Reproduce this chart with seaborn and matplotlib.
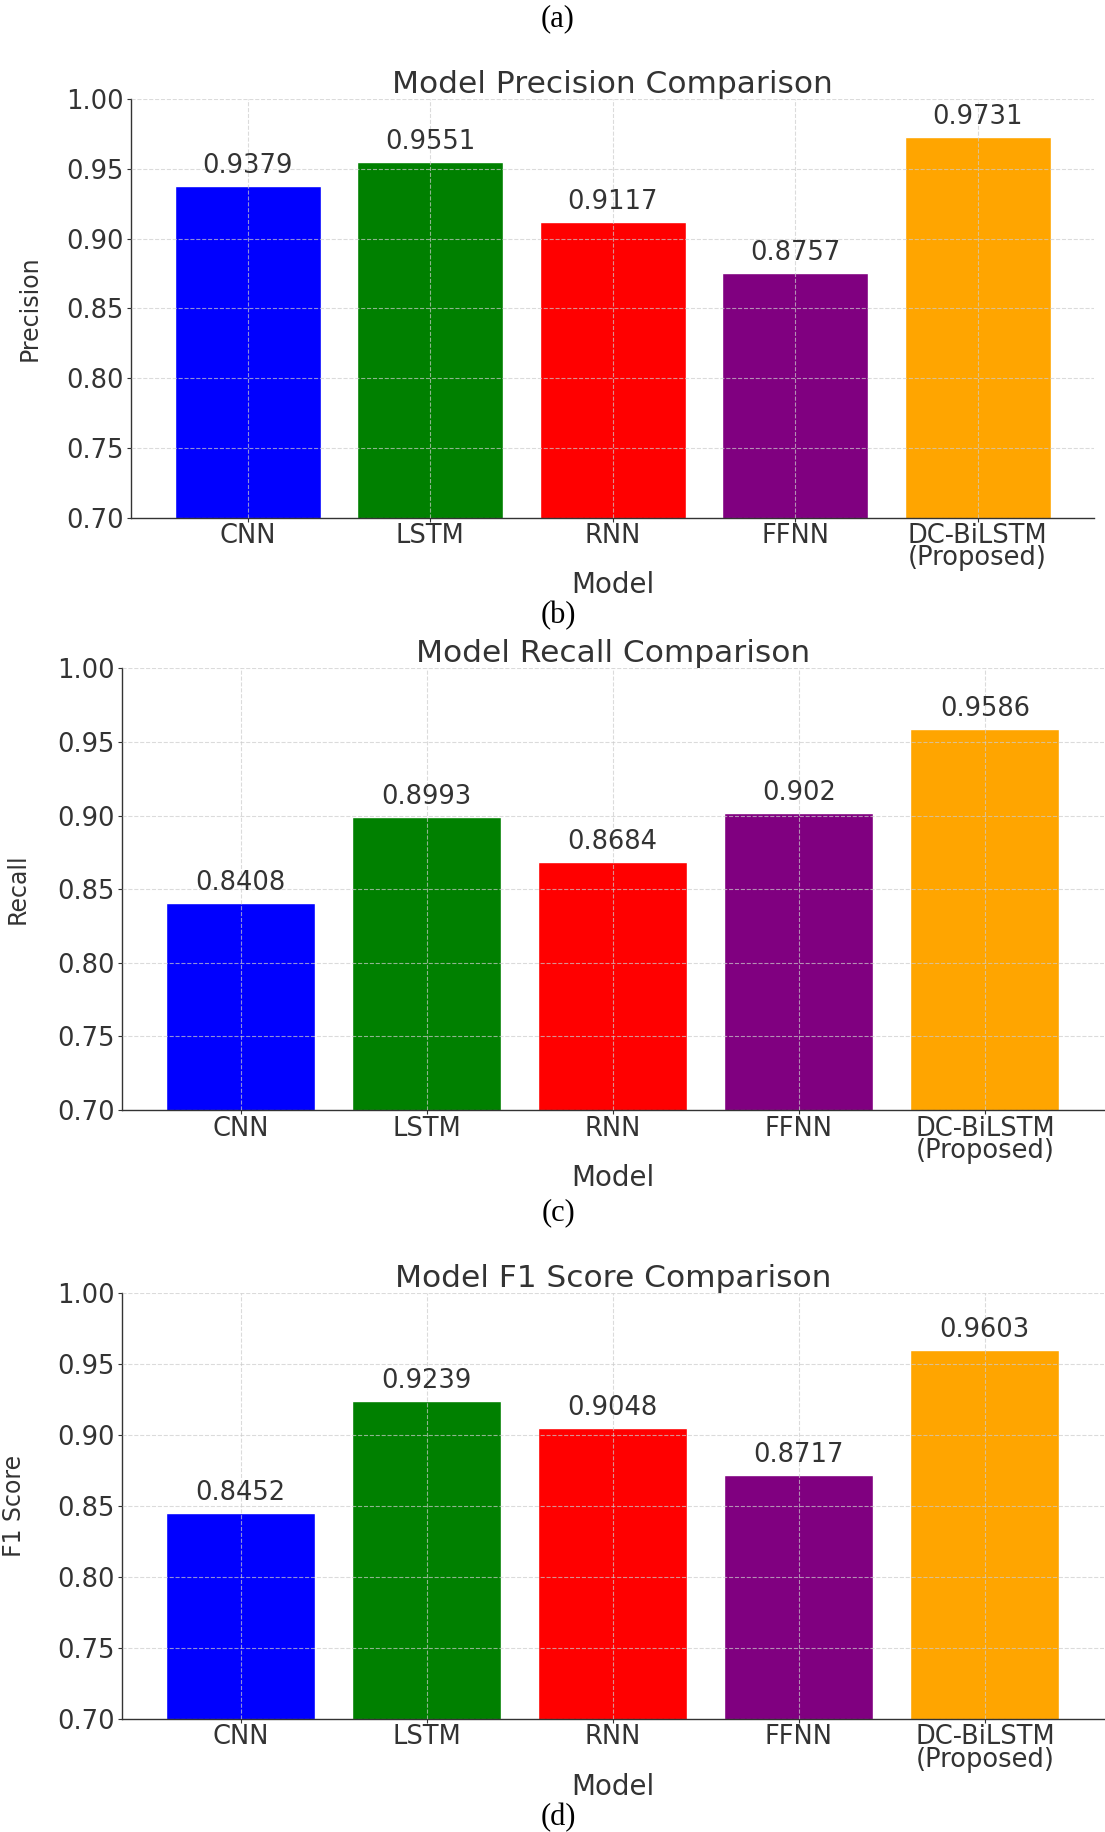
import numpy as np
import pandas as pd
import matplotlib.pyplot as plt
import seaborn as sns

models = ['CNN', 'LSTM', 'RNN', 'FFNN', 'DC-BiLSTM\n(Proposed)']
precision = [0.9379, 0.9551, 0.9117, 0.8757, 0.9731]
recall = [0.8408, 0.8993, 0.8684, 0.902, 0.9586]
f1_score = [0.8452, 0.9239, 0.9048, 0.8717, 0.9603]
colors = ['blue', 'green', 'red', 'purple', 'orange']
yticks = [0.70, 0.75, 0.80, 0.85, 0.90, 0.95, 1.00]

sns.set_style('ticks')
plt.rcParams['font.family'] = ['DejaVu Sans']
text_col = '#333333'

fig = plt.figure(figsize=(11.05, 18.32), dpi=100)

# [left, bottom, width, height], title, ylabel, values, ylabel x-position
panels = [
    ([0.1184, 0.7175, 0.872, 0.2283], 'Model Precision Comparison', 'Precision', precision, -0.093),
    ([0.110, 0.3941, 0.889, 0.2411], 'Model Recall Comparison', 'Recall', recall, -0.094),
    ([0.110, 0.0619, 0.889, 0.2321], 'Model F1 Score Comparison', 'F1 Score', f1_score, -0.0975),
]

for rect, title, ylab, vals, ylx in panels:
    ax = fig.add_axes(rect)
    df = pd.DataFrame({'Model': models, 'Value': vals})
    sns.barplot(data=df, x='Model', y='Value', hue='Model',
                palette=dict(zip(models, colors)), saturation=1,
                width=0.8, legend=False, ax=ax)
    ax.set_xlim(-0.64, 4.64)
    ax.set_ylim(0.70, 1.00)
    ax.set_yticks(yticks)
    ax.set_yticklabels([f'{t:.2f}' for t in yticks])

    for cont in ax.containers:
        ax.bar_label(cont, labels=[str(v) for v in cont.datavalues],
                     padding=5, fontsize=18.5, color=text_col)

    ax.set_title(title, fontsize=22.5, color=text_col, pad=4)
    ax.set_xlabel('Model', fontsize=20, color=text_col, labelpad=0)
    ax.set_ylabel(ylab, fontsize=17, color=text_col)
    ax.yaxis.set_label_coords(ylx, 0.5)

    ax.tick_params(axis='both', labelsize=18.5, labelcolor=text_col,
                   length=3, pad=2, color=text_col)
    ax.tick_params(axis='x', pad=1)
    for lbl in ax.get_xticklabels():
        lbl.set_linespacing(0.82)

    sns.despine(ax=ax)
    for s in ['left', 'bottom']:
        ax.spines[s].set_color(text_col)
        ax.spines[s].set_linewidth(1.0)

    ax.set_axisbelow(False)
    ax.grid(True, axis='both', color='#cccccc', linestyle='--',
            linewidth=0.8, alpha=0.7)

for lab, y in [('(a)', 0.9898), ('(b)', 0.6639), ('(c)', 0.338), ('(d)', 0.0077)]:
    fig.text(0.505, y, lab, ha='center', va='center', fontsize=22,
             family=['Liberation Serif', 'DejaVu Serif'], color='black')

fig.savefig('out.png', dpi=100)
